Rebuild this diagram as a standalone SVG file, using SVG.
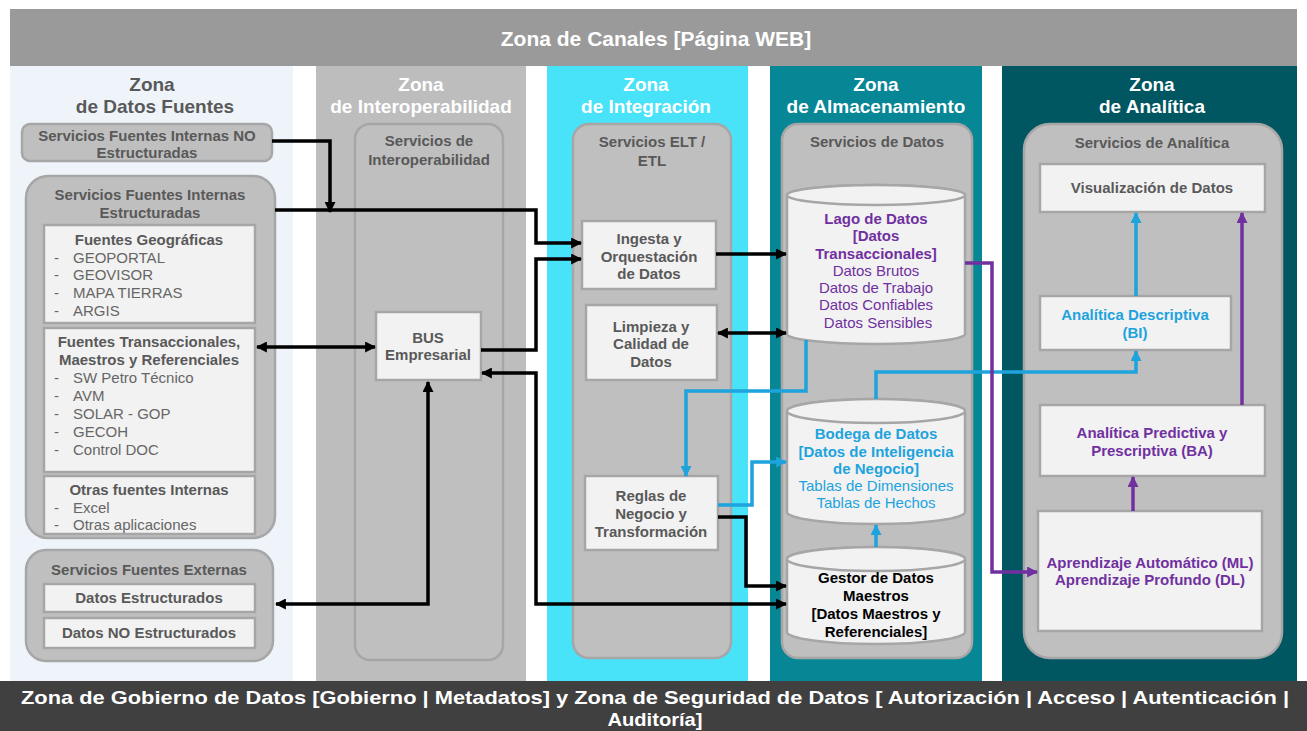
<svg xmlns="http://www.w3.org/2000/svg" width="1307" height="731" viewBox="0 0 1307 731">
<defs>
<style>
text{font-family:"Liberation Sans",Arial,sans-serif;}
.zt{font-size:19px;font-weight:bold;text-anchor:middle;fill:#ffffff;}
.zd{fill:#595959;}
.ct{font-size:15px;font-weight:bold;text-anchor:middle;fill:#595959;}
.bx{fill:#f2f2f2;stroke:#a6a6a6;stroke-width:2.5;}
.cont{fill:#bfbfbf;stroke:#a6a6a6;stroke-width:2.5;}
.li{font-size:15px;fill:#666666;}
.bt{font-size:15px;font-weight:bold;text-anchor:middle;fill:#595959;}
.k{fill:none;stroke:#000;stroke-width:3.5;}
.c{fill:none;stroke:#1ea3dd;stroke-width:3.5;}
.p{fill:none;stroke:#7030a0;stroke-width:3.5;}
.cyl{fill:#f2f2f2;stroke:#a6a6a6;stroke-width:2.5;}
</style>
<marker id="ak" viewBox="0 0 10 10" refX="9" refY="5" markerWidth="11" markerHeight="11" markerUnits="userSpaceOnUse" orient="auto-start-reverse"><path d="M0,0 L10,5 L0,10 Z" fill="#000"/></marker>
<marker id="ac" viewBox="0 0 10 10" refX="9" refY="5" markerWidth="11" markerHeight="11" markerUnits="userSpaceOnUse" orient="auto-start-reverse"><path d="M0,0 L10,5 L0,10 Z" fill="#1ea3dd"/></marker>
<marker id="ap" viewBox="0 0 10 10" refX="9" refY="5" markerWidth="11" markerHeight="11" markerUnits="userSpaceOnUse" orient="auto-start-reverse"><path d="M0,0 L10,5 L0,10 Z" fill="#7030a0"/></marker>
</defs>
<rect x="0" y="0" width="1307" height="731" fill="#ffffff"/>

<!-- header -->
<g id="header">
<rect x="10" y="9" width="1287" height="57" fill="#9a9a9a"/>
<text x="656" y="46" font-size="21" font-weight="bold" fill="#ffffff" text-anchor="middle">Zona de Canales [Página WEB]</text>
</g>

<!-- zones -->
<g id="zones">
<rect x="10" y="66" width="283" height="615" fill="#eef4fa"/>
<rect x="316" y="66" width="210" height="615" fill="#bdbdbd"/>
<rect x="547" y="66" width="201" height="615" fill="#48e2f9"/>
<rect x="770" y="66" width="212" height="615" fill="#078696"/>
<rect x="1002" y="66" width="295" height="615" fill="#005661"/>
<text class="zt zd" x="152" y="91">Zona</text>
<text class="zt zd" x="155" y="113">de Datos Fuentes</text>
<text class="zt" x="421" y="91">Zona</text>
<text class="zt" x="421" y="113">de Interoperabilidad</text>
<text class="zt" x="646" y="91">Zona</text>
<text class="zt" x="646" y="113">de Integración</text>
<text class="zt" x="876" y="91">Zona</text>
<text class="zt" x="876" y="113">de Almacenamiento</text>
<text class="zt" x="1152" y="91">Zona</text>
<text class="zt" x="1152" y="113">de Analítica</text>
</g>

<!-- footer -->
<g id="footer">
<rect x="0" y="681" width="1307" height="50" fill="#404040"/>
<text x="655" y="704" font-size="19" font-weight="bold" fill="#ffffff" text-anchor="middle" textLength="1268" lengthAdjust="spacingAndGlyphs">Zona  de Gobierno  de Datos [Gobierno | Metadatos]  y Zona de Seguridad de Datos [ Autorización | Acceso | Autenticación |</text>
<text x="655" y="726" font-size="19" font-weight="bold" fill="#ffffff" text-anchor="middle" textLength="95" lengthAdjust="spacingAndGlyphs">Auditoría]</text>
</g>

<!-- Datos Fuentes -->
<g id="fuentes-no-estructuradas">
<rect class="cont" x="22" y="124" width="250" height="37" rx="8"/>
<text class="ct" x="147" y="141">Servicios Fuentes Internas NO</text>
<text class="ct" x="147" y="158">Estructuradas</text>
</g>
<g id="fuentes-estructuradas">
<rect class="cont" x="26" y="176" width="249" height="362" rx="22"/>
<text class="ct" x="150" y="200">Servicios Fuentes Internas</text>
<text class="ct" x="150" y="218">Estructuradas</text>
</g>
<g id="fuentes-geograficas">
<rect class="bx" x="44" y="225" width="211" height="98"/>
<text class="bt" x="149" y="245">Fuentes Geográficas</text>
<text class="li" x="54" y="263">-</text><text class="li" x="73" y="263">GEOPORTAL</text>
<text class="li" x="54" y="280">-</text><text class="li" x="73" y="280">GEOVISOR</text>
<text class="li" x="54" y="298">-</text><text class="li" x="73" y="298">MAPA  TIERRAS</text>
<text class="li" x="54" y="316">-</text><text class="li" x="73" y="316">ARGIS</text>
</g>
<g id="fuentes-transaccionales">
<rect class="bx" x="44" y="328" width="211" height="144"/>
<text class="bt" x="149" y="347">Fuentes Transaccionales,</text>
<text class="bt" x="149" y="365">Maestros y Referenciales</text>
<text class="li" x="54" y="383">-</text><text class="li" x="73" y="383">SW Petro Técnico</text>
<text class="li" x="54" y="401">-</text><text class="li" x="73" y="401">AVM</text>
<text class="li" x="54" y="419">-</text><text class="li" x="73" y="419">SOLAR - GOP</text>
<text class="li" x="54" y="437">-</text><text class="li" x="73" y="437">GECOH</text>
<text class="li" x="54" y="455">-</text><text class="li" x="73" y="455">Control DOC</text>
</g>
<g id="otras-fuentes">
<rect class="bx" x="44" y="476" width="211" height="58"/>
<text class="bt" x="149" y="495">Otras fuentes Internas</text>
<text class="li" x="54" y="513">-</text><text class="li" x="73" y="513">Excel</text>
<text class="li" x="54" y="530">-</text><text class="li" x="73" y="530">Otras aplicaciones</text>
</g>
<g id="fuentes-externas">
<rect class="cont" x="26" y="550" width="247" height="111" rx="20"/>
<text class="ct" x="149" y="575">Servicios Fuentes Externas</text>
</g>
<g id="datos-estructurados">
<rect class="bx" x="44" y="584" width="211" height="28"/>
<text class="bt" x="149" y="603">Datos Estructurados</text>
</g>
<g id="datos-no-estructurados">
<rect class="bx" x="44" y="618" width="211" height="30"/>
<text class="bt" x="149" y="638">Datos NO Estructurados</text>
</g>

<!-- Interoperabilidad -->
<g id="servicios-interoperabilidad">
<rect class="cont" x="355" y="124" width="148" height="536" rx="15" fill="#bdbdbd"/>
<text class="ct" x="429" y="146">Servicios de</text>
<text class="ct" x="429" y="165">Interoperabilidad</text>
</g>
<g id="bus">
<rect class="bx" x="376" y="312" width="105" height="68"/>
<text class="bt" x="428" y="343">BUS</text>
<text class="bt" x="428" y="360">Empresarial</text>
</g>

<!-- Integracion -->
<g id="servicios-etl">
<rect class="cont" x="573" y="124" width="158" height="534" rx="16"/>
<text class="ct" x="652" y="147">Servicios ELT /</text>
<text class="ct" x="652" y="166">ETL</text>
</g>
<g id="ingesta">
<rect class="bx" x="582" y="221" width="134" height="68"/>
<text class="bt" x="649" y="244">Ingesta y</text>
<text class="bt" x="649" y="262">Orquestación</text>
<text class="bt" x="649" y="279">de Datos</text>
</g>
<g id="limpieza">
<rect class="bx" x="586" y="305" width="131" height="75"/>
<text class="bt" x="651" y="332">Limpieza y</text>
<text class="bt" x="651" y="349">Calidad de</text>
<text class="bt" x="651" y="367">Datos</text>
</g>
<g id="reglas">
<rect class="bx" x="585" y="476" width="133" height="74"/>
<text class="bt" x="651" y="501">Reglas de</text>
<text class="bt" x="651" y="519">Negocio y</text>
<text class="bt" x="651" y="537">Transformación</text>
</g>

<!-- Almacenamiento -->
<g id="servicios-datos">
<rect class="cont" x="782" y="124" width="190" height="534" rx="16"/>
<text class="ct" x="877" y="147">Servicios de Datos</text>
</g>
<g id="lago">
<path class="cyl" d="M787,195 A89,10 0 0 1 965,195 V334 A89,10 0 0 1 787,334 Z"/>
<ellipse class="cyl" cx="876" cy="195" rx="89" ry="10"/>
<g font-size="15" text-anchor="middle" fill="#7030a0">
<text x="876" y="224" font-weight="bold">Lago de Datos</text>
<text x="876" y="241" font-weight="bold">[Datos</text>
<text x="876" y="259" font-weight="bold">Transaccionales]</text>
<text x="876" y="276">Datos Brutos</text>
<text x="876" y="293">Datos de Trabajo</text>
<text x="876" y="310">Datos Confiables</text>
<text x="878" y="328">Datos Sensibles</text>
</g>
</g>
<g id="bodega">
<path class="cyl" d="M787,411 A89,12 0 0 1 965,411 V512 A89,12 0 0 1 787,512 Z"/>
<ellipse class="cyl" cx="876" cy="411" rx="89" ry="12"/>
<g font-size="15" text-anchor="middle" fill="#1ea3dd">
<text x="876" y="439" font-weight="bold">Bodega de Datos</text>
<text x="876" y="457" font-weight="bold">[Datos de Inteligencia</text>
<text x="876" y="474" font-weight="bold">de Negocio]</text>
<text x="876" y="491">Tablas de Dimensiones</text>
<text x="876" y="508">Tablas de Hechos</text>
</g>
</g>
<g id="gestor">
<path class="cyl" d="M787,559 A89,12 0 0 1 965,559 V632 A89,12 0 0 1 787,632 Z"/>
<ellipse class="cyl" cx="876" cy="559" rx="89" ry="12"/>
<g font-size="15" font-weight="bold" text-anchor="middle" fill="#000000">
<text x="876" y="583">Gestor de Datos</text>
<text x="876" y="601">Maestros</text>
<text x="876" y="619">[Datos Maestros y</text>
<text x="876" y="637">Referenciales]</text>
</g>
</g>

<!-- Analitica -->
<g id="servicios-analitica">
<rect class="cont" x="1024" y="124" width="258" height="534" rx="26"/>
<text class="ct" x="1152" y="148">Servicios de Analítica</text>
</g>
<g id="visualizacion">
<rect class="bx" x="1040" y="164" width="225" height="48"/>
<text class="bt" x="1152" y="193">Visualización de Datos</text>
</g>
<g id="descriptiva">
<rect class="bx" x="1040" y="296" width="191" height="54"/>
<text class="bt" x="1135" y="320" style="fill:#1ea3dd">Analítica  Descriptiva</text>
<text class="bt" x="1135" y="338" style="fill:#1ea3dd">(BI)</text>
</g>
<g id="predictiva">
<rect class="bx" x="1040" y="405" width="225" height="71"/>
<text class="bt" x="1152" y="438" style="fill:#7030a0">Analítica  Predictiva y</text>
<text class="bt" x="1152" y="456" style="fill:#7030a0">Prescriptiva (BA)</text>
</g>
<g id="aprendizaje">
<rect class="bx" x="1038" y="511" width="224" height="120"/>
<text class="bt" x="1150" y="568" style="fill:#7030a0">Aprendizaje Automático  (ML)</text>
<text class="bt" x="1150" y="585" style="fill:#7030a0">Aprendizaje Profundo (DL)</text>
</g>

<!-- connectors -->
<g id="connectors">
<path class="k" d="M272,141 H330 V212" marker-end="url(#ak)"/>
<path class="k" d="M275,210 H536 V243 H581" marker-end="url(#ak)"/>
<path class="k" d="M481,350 H536 V259 H581" marker-end="url(#ak)"/>
<path class="k" d="M257,347 H375" marker-start="url(#ak)" marker-end="url(#ak)"/>
<path class="k" d="M716,254 H786" marker-end="url(#ak)"/>
<path class="k" d="M718,333 H786" marker-start="url(#ak)" marker-end="url(#ak)"/>
<path class="k" d="M276,604 H428 V382" marker-start="url(#ak)" marker-end="url(#ak)"/>
<path class="k" d="M482,373 H536 V604 H786" marker-start="url(#ak)" marker-end="url(#ak)"/>
<path class="k" d="M718,517 H746 V586 H786" marker-end="url(#ak)"/>
<path class="c" d="M806,340 V391 H686 V476" marker-end="url(#ac)"/>
<path class="c" d="M718,505 H752 V462 H786" marker-end="url(#ac)"/>
<path class="c" d="M876,399 V372 H1136 V351" marker-end="url(#ac)"/>
<path class="c" d="M1136,296 V213" marker-end="url(#ac)"/>
<path class="c" d="M876,547 V525" marker-end="url(#ac)"/>
<path class="p" d="M965,263 H992 V572 H1037" marker-end="url(#ap)"/>
<path class="p" d="M1133,511 V477" marker-end="url(#ap)"/>
<path class="p" d="M1242,405 V213" marker-end="url(#ap)"/>
</g>
</svg>
